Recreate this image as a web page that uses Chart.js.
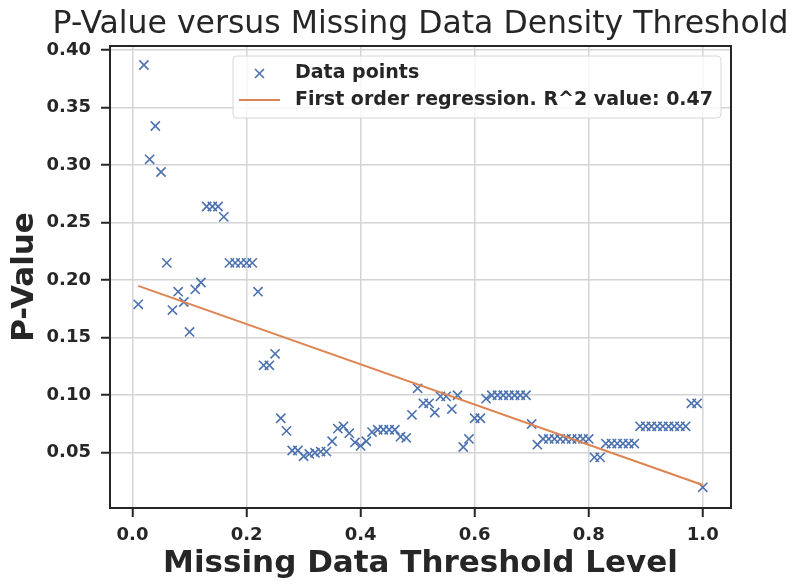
<!DOCTYPE html>
<html>
<head>
<meta charset="utf-8">
<script src="https://cdn.jsdelivr.net/npm/chart.js@4"></script>
<style>
    body { margin: 0; background: #ffffff; }
    #box { width: 800px; height: 586px; }
</style>
</head>
<body>
<div id="box"><canvas id="pValueChart" width="800" height="586"></canvas></div>
<script>
// Missing data threshold levels (x) and the p-value read at each one
const thresholds = [
    0.01, 0.02, 0.03, 0.04, 0.05, 0.06, 0.07, 0.08, 0.09, 0.10,
    0.11, 0.12, 0.13, 0.14, 0.15, 0.16, 0.17, 0.18, 0.19, 0.20,
    0.21, 0.22, 0.23, 0.24, 0.25, 0.26, 0.27, 0.28, 0.29, 0.30,
    0.31, 0.32, 0.33, 0.34, 0.35, 0.36, 0.37, 0.38, 0.39, 0.40,
    0.41, 0.42, 0.43, 0.44, 0.45, 0.46, 0.47, 0.48, 0.49, 0.50,
    0.51, 0.52, 0.53, 0.54, 0.55, 0.56, 0.57, 0.58, 0.59, 0.60,
    0.61, 0.62, 0.63, 0.64, 0.65, 0.66, 0.67, 0.68, 0.69, 0.70,
    0.71, 0.72, 0.73, 0.74, 0.75, 0.76, 0.77, 0.78, 0.79, 0.80,
    0.81, 0.82, 0.83, 0.84, 0.85, 0.86, 0.87, 0.88, 0.89, 0.90,
    0.91, 0.92, 0.93, 0.94, 0.95, 0.96, 0.97, 0.98, 0.99, 1.00
];
const pValues = [
    0.179, 0.387, 0.305, 0.334, 0.294, 0.215, 0.174, 0.190, 0.181, 0.155,
    0.192, 0.198, 0.264, 0.264, 0.264, 0.255, 0.215, 0.215, 0.215, 0.215,
    0.215, 0.190, 0.126, 0.126, 0.136, 0.080, 0.069, 0.052, 0.052, 0.047,
    0.049, 0.050, 0.051, 0.051, 0.060, 0.071, 0.073, 0.067, 0.059, 0.056,
    0.060, 0.068, 0.070, 0.070, 0.070, 0.070, 0.064, 0.063, 0.083, 0.106,
    0.093, 0.093, 0.085, 0.099, 0.099, 0.088, 0.100, 0.055, 0.062, 0.080,
    0.080, 0.097, 0.100, 0.100, 0.100, 0.100, 0.100, 0.100, 0.100, 0.075,
    0.057, 0.062, 0.062, 0.062, 0.062, 0.062, 0.062, 0.062, 0.062, 0.062,
    0.046, 0.046, 0.058, 0.058, 0.058, 0.058, 0.058, 0.058, 0.073, 0.073,
    0.073, 0.073, 0.073, 0.073, 0.073, 0.073, 0.073, 0.093, 0.093, 0.020
];
// regression line end points
const regressionX = [0.01, 1.00];
const regressionY = [0.195, 0.022];

const chartTitle = 'P-Value versus Missing Data Density Threshold';
const legendLabels = ['Data points', 'First order regression. R^2 value: 0.47'];

const azul = '#4c72b0';
const laranja = '#dd8452';
const escuro = '#262626';
const fonte = 'DejaVu Sans';

// title over the plot, frame around the plot, legend box inside it
const moldura = {
    id: 'moldura',
    afterDraw(chart) {
        const c = chart.ctx;
        const a = chart.chartArea;
        c.save();
        c.fillStyle = escuro;
        c.font = '31.5px "' + fonte + '"';
        c.textAlign = 'center';
        c.textBaseline = 'middle';
        c.fillText(chartTitle, (a.left + a.right) / 2, 25);

        c.strokeStyle = escuro;
        c.lineWidth = 2;
        c.strokeRect(a.left, a.top, a.right - a.left, a.bottom - a.top);

        const lx = a.left + 123, ly = a.top + 10;
        c.beginPath();
        c.roundRect(lx, ly, 488, 62, 4);
        c.fillStyle = 'rgba(255,255,255,0.8)';
        c.fill();
        c.strokeStyle = '#d6d6d6';
        c.lineWidth = 1;
        c.stroke();

        // marker
        c.strokeStyle = azul;
        c.lineWidth = 1.6;
        c.beginPath();
        c.moveTo(lx + 22, ly + 13); c.lineTo(lx + 31, ly + 22);
        c.moveTo(lx + 31, ly + 13); c.lineTo(lx + 22, ly + 22);
        c.stroke();
        // line sample
        c.strokeStyle = laranja;
        c.lineWidth = 2;
        c.beginPath();
        c.moveTo(lx + 6, ly + 44); c.lineTo(lx + 47, ly + 44);
        c.stroke();

        c.fillStyle = escuro;
        c.font = 'bold 19px "' + fonte + '"';
        c.textAlign = 'left';
        c.fillText(legendLabels[0], lx + 62, ly + 17);
        c.fillText(legendLabels[1], lx + 62, ly + 44);
        c.restore();
    }
};

const ctx = document.getElementById('pValueChart');
new Chart(ctx, {
    type: 'scatter',
    data: {
        datasets: [{
            label: legendLabels[0],
            data: thresholds.map((x, i) => ({ x: x, y: pValues[i] })),
            pointStyle: 'crossRot',
            pointRadius: 6.5,
            pointHoverRadius: 6.5,
            borderColor: azul,
            backgroundColor: azul,
            pointBorderWidth: 1.6
        },
        {
            label: legendLabels[1],
            data: regressionX.map((x, i) => ({ x: x, y: regressionY[i] })),
            showLine: true,
            pointRadius: 0,
            borderColor: laranja,
            borderWidth: 2,
            order: -1
        }]
    },
    options: {
        responsive: false,
        animation: false,
        layout: {
            padding: { left: 0, right: 69, top: 46, bottom: 0 }
        },
        scales: {
            x: {
                type: 'linear',
                min: -0.0395,
                max: 1.0495,
                afterFit(s) { s.height = 78; },
                ticks: {
                    stepSize: 0.2,
                    includeBounds: false,
                    padding: 8,
                    color: escuro,
                    font: { family: fonte, size: 18, weight: 'bold' },
                    callback: (v) => v.toFixed(1)
                },
                grid: {
                    color: '#d4d4d4',
                    lineWidth: 1.5,
                    tickLength: 9,
                    tickColor: escuro,
                    tickWidth: 2
                },
                border: { color: escuro, width: 2 },
                title: {
                    display: true,
                    text: 'Missing Data Threshold Level',
                    color: escuro,
                    font: { family: fonte, size: 31, weight: 'bold' },
                    padding: { top: 0, bottom: 3 }
                }
            },
            y: {
                min: 0.002,
                max: 0.4035,
                afterFit(s) { s.width = 110; },
                ticks: {
                    stepSize: 0.05,
                    includeBounds: false,
                    padding: 10,
                    color: escuro,
                    font: { family: fonte, size: 18, weight: 'bold' },
                    callback: (v) => v.toFixed(2)
                },
                grid: {
                    color: '#d4d4d4',
                    lineWidth: 1.5,
                    tickLength: 9,
                    tickColor: escuro,
                    tickWidth: 2
                },
                border: { color: escuro, width: 2 },
                title: {
                    display: true,
                    text: 'P-Value',
                    color: escuro,
                    font: { family: fonte, size: 31, weight: 'bold' },
                    padding: { top: 6, bottom: 0 }
                }
            }
        },
        plugins: {
            legend: { display: false },
            tooltip: { enabled: false },
            title: { display: false }
        }
    },
    plugins: [moldura]
});
</script>
</body>
</html>
